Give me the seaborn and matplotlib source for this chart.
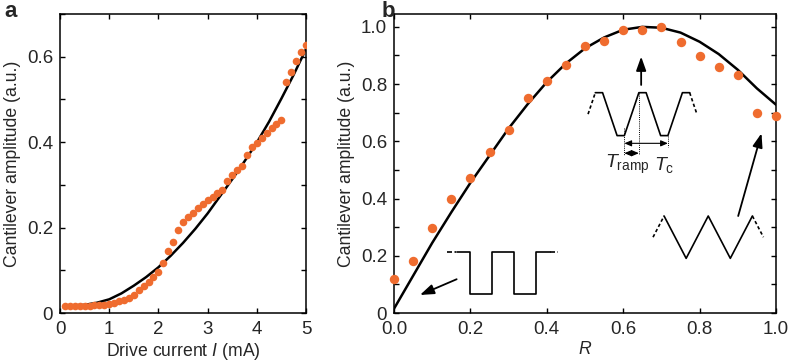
import seaborn as sns
import matplotlib.pyplot as plt
import matplotlib.transforms as mtransforms
from matplotlib.ticker import MultipleLocator

# --- Panel a: cantilever amplitude vs drive current ---
current_ma = [0.1, 0.2, 0.3, 0.4, 0.5, 0.6, 0.7, 0.8, 0.9, 1.0,
              1.1, 1.2, 1.3, 1.4, 1.5, 1.6, 1.7, 1.8, 1.9, 2.0,
              2.1, 2.2, 2.3, 2.4, 2.5, 2.6, 2.7, 2.8, 2.9, 3.0,
              3.1, 3.2, 3.3, 3.4, 3.5, 3.6, 3.7, 3.8, 3.9, 4.0,
              4.1, 4.2, 4.3, 4.4, 4.5, 4.6, 4.7, 4.8, 4.9, 5.0]
amp_a = [0.017, 0.017, 0.017, 0.017, 0.017, 0.017, 0.018, 0.018, 0.019, 0.021,
         0.024, 0.027, 0.030, 0.035, 0.042, 0.053, 0.063, 0.073, 0.085, 0.097,
         0.116, 0.144, 0.167, 0.194, 0.214, 0.225, 0.235, 0.246, 0.255, 0.264,
         0.272, 0.280, 0.289, 0.308, 0.322, 0.334, 0.343, 0.370, 0.389, 0.399,
         0.410, 0.421, 0.432, 0.443, 0.452, 0.541, 0.565, 0.591, 0.611, 0.628]
fit_current = [0.1, 0.25, 0.5, 0.75, 1.0, 1.25, 1.5, 1.75, 2.0, 2.25, 2.5,
               2.75, 3.0, 3.25, 3.5, 3.75, 4.0, 4.25, 4.5, 4.75, 5.0]
fit_amp_a = [0.018, 0.018, 0.019, 0.024, 0.032, 0.046, 0.064, 0.084, 0.107, 0.134, 0.164,
             0.197, 0.233, 0.273, 0.313, 0.355, 0.399, 0.448, 0.502, 0.558, 0.618]

# --- Panel b: cantilever amplitude vs R ---
r_vals = [0.0, 0.05, 0.1, 0.15, 0.2, 0.25, 0.3, 0.35, 0.4, 0.45, 0.5,
          0.55, 0.6, 0.65, 0.7, 0.75, 0.8, 0.85, 0.9, 0.95, 1.0]
amp_b = [0.119, 0.181, 0.297, 0.400, 0.472, 0.563, 0.639, 0.751, 0.812, 0.866, 0.934,
         0.950, 0.988, 0.988, 1.000, 0.946, 0.897, 0.859, 0.833, 0.698, 0.688]
fit_r = r_vals
fit_amp_b = [0.015, 0.130, 0.245, 0.352, 0.455, 0.550, 0.645, 0.730, 0.807, 0.872, 0.925,
             0.963, 0.990, 1.000, 0.997, 0.980, 0.948, 0.905, 0.850, 0.785, 0.728]

# tick labels
a_xticks = [0, 1, 2, 3, 4, 5]
a_yticks = [0, 0.2, 0.4, 0.6]
a_yticklabels = ["0", "0.2", "0.4", "0.6"]
b_xticks = [0, 0.2, 0.4, 0.6, 0.8, 1.0]
b_xticklabels = ["0.0", "0.2", "0.4", "0.6", "0.8", "1.0"]
b_yticks = [0, 0.2, 0.4, 0.6, 0.8, 1.0]
b_yticklabels = ["0", "0.2", "0.4", "0.6", "0.8", "1.0"]

# schematic waveforms (time in ramp / half-period units, level 0..1)
square_t = [-0.61, 0, 0, 1, 1, 2, 2, 3, 3, 3.62]
square_v = [1, 1, 0, 0, 1, 1, 0, 0, 1, 1]
trap_t = [-2, -1.5, -0.5, 0, 1, 1.5, 2.5, 3, 4, 4.5]
trap_v = [1, 1, 0, 0, 1, 1, 0, 0, 1, 1]
tri_t = [0, 1, 2, 3, 4]
tri_v = [1, 0, 1, 0, 1]

orange = "#EF6C2F"

sns.set_theme(style="ticks")
plt.rcParams["font.family"] = ["Liberation Sans", "DejaVu Sans"]
plt.rcParams["mathtext.fontset"] = "custom"
plt.rcParams["mathtext.rm"] = "Liberation Sans"
plt.rcParams["mathtext.it"] = "Liberation Sans:italic"

fig = plt.figure(figsize=(7.88, 3.64), dpi=100)
ax_a = fig.add_axes([60 / 788, 51 / 364, 246 / 788, 299 / 364])
ax_b = fig.add_axes([394 / 788, 51 / 364, 382 / 788, 299 / 364])

# panel a
sns.lineplot(x=fit_current, y=fit_amp_a, ax=ax_a, color="black", lw=1.8, zorder=2)
sns.scatterplot(x=current_ma, y=amp_a, ax=ax_a, color=orange, s=30, linewidth=0, zorder=3)
ax_a.set_xlim(0, 5)
ax_a.set_ylim(0, 0.70)
ax_a.set_xticks(a_xticks)
ax_a.set_yticks(a_yticks)
ax_a.set_yticklabels(a_yticklabels)
ax_a.set_xlabel("Drive current $I$ (mA)", fontsize=12.7, labelpad=2)
ax_a.set_ylabel("Cantilever amplitude (a.u.)", fontsize=12.7, labelpad=4)

# panel b
sns.lineplot(x=fit_r, y=fit_amp_b, ax=ax_b, color="black", lw=1.8, zorder=2)
sns.scatterplot(x=r_vals, y=amp_b, ax=ax_b, color=orange, s=46, linewidth=0, zorder=3, clip_on=False)
ax_b.set_xlim(0, 1)
ax_b.set_ylim(0, 1.045)
ax_b.set_xticks(b_xticks)
ax_b.set_xticklabels(b_xticklabels)
ax_b.set_yticks(b_yticks)
ax_b.set_yticklabels(b_yticklabels)
ax_b.set_xlabel("$R$", fontsize=12.7, labelpad=2)
ax_b.set_ylabel("Cantilever amplitude (a.u.)", fontsize=12.7, labelpad=4)

for ax in (ax_a, ax_b):
    ax.yaxis.set_minor_locator(MultipleLocator(0.1))
    ax.tick_params(which="both", direction="in", top=True, right=True,
                   length=3.5, width=1.0, labelsize=13.5, color="black")
    ax.tick_params(axis="x", pad=6)
    ax.tick_params(axis="y", pad=5)
    for sp in ax.spines.values():
        sp.set_linewidth(1.1)
        sp.set_color("black")

# schematics in panel b
lw_s = 1.2
tr_sq = mtransforms.Affine2D().scale(0.0577, 0.147).translate(0.199, 0.065) + ax_b.transData
ax_b.plot(square_t, square_v, color="black", lw=lw_s, transform=tr_sq)
ax_b.plot([-1.03, -0.61], [1, 1], color="black", lw=lw_s, ls=(0, (3, 1.5, 1, 1.5)), transform=tr_sq)
ax_b.plot([3.62, 4.0], [1, 1], color="black", lw=lw_s, ls=(0, (3, 1.5, 1, 1.5)), transform=tr_sq)

tr_tp = mtransforms.Affine2D().scale(0.038, 0.15).translate(0.603, 0.620) + ax_b.transData
ax_b.plot(trap_t, trap_v, color="black", lw=lw_s, transform=tr_tp)
ax_b.plot([-2.5, -2], [0.5, 1], color="black", lw=lw_s, ls=(0, (2, 1.5)), transform=tr_tp)
ax_b.plot([4.5, 5], [1, 0.5], color="black", lw=lw_s, ls=(0, (2, 1.5)), transform=tr_tp)
ax_b.plot([0, 0], [0.17, -0.45], color="black", lw=0.7, ls=(0, (1, 1.2)), transform=tr_tp)
ax_b.plot([1, 1], [1, -0.45], color="black", lw=0.7, ls=(0, (1, 1.2)), transform=tr_tp)
ax_b.plot([3, 3], [0, -0.26], color="black", lw=0.7, ls=(0, (1, 1.2)), transform=tr_tp)
dbl = dict(arrowstyle="<|-|>,head_length=0.35,head_width=0.15", color="black", lw=0.8,
           shrinkA=0, shrinkB=0)
ax_b.annotate("", xy=(3, -0.18), xytext=(0, -0.18), xycoords=tr_tp, textcoords=tr_tp, arrowprops=dbl)
ax_b.annotate("", xy=(1, -0.41), xytext=(0, -0.41), xycoords=tr_tp, textcoords=tr_tp, arrowprops=dbl)
ax_b.text(-1.3, -0.68, r"$T_{\mathrm{ramp}}$", transform=tr_tp, fontsize=14, ha="left", va="center")
ax_b.text(2.05, -0.68, r"$T_{\mathrm{c}}$", transform=tr_tp, fontsize=14, ha="left", va="center")

tr_tri = mtransforms.Affine2D().scale(0.0578, 0.148).translate(0.707, 0.191) + ax_b.transData
ax_b.plot(tri_t, tri_v, color="black", lw=lw_s, transform=tr_tri)
ax_b.plot([-0.5, 0], [0.5, 1], color="black", lw=lw_s, ls=(0, (2, 1.5)), transform=tr_tri)
ax_b.plot([4, 4.5], [1, 0.5], color="black", lw=lw_s, ls=(0, (2, 1.5)), transform=tr_tri)

arr = dict(arrowstyle="-|>,head_length=0.7,head_width=0.25", color="black", lw=1.3,
           shrinkA=0, shrinkB=0)
ax_b.annotate("", xy=(0.068, 0.063), xytext=(0.164, 0.118), arrowprops=arr)
ax_b.annotate("", xy=(0.647, 0.896), xytext=(0.647, 0.797), arrowprops=arr)
ax_b.annotate("", xy=(0.962, 0.628), xytext=(0.901, 0.339), arrowprops=arr)

fig.text(4 / 788, 1 - 1 / 364, "a", fontsize=16, fontweight="bold", va="top", ha="left")
fig.text(382 / 788, 1 - 1 / 364, "b", fontsize=16, fontweight="bold", va="top", ha="left")

fig.savefig("out.png", dpi=100)
